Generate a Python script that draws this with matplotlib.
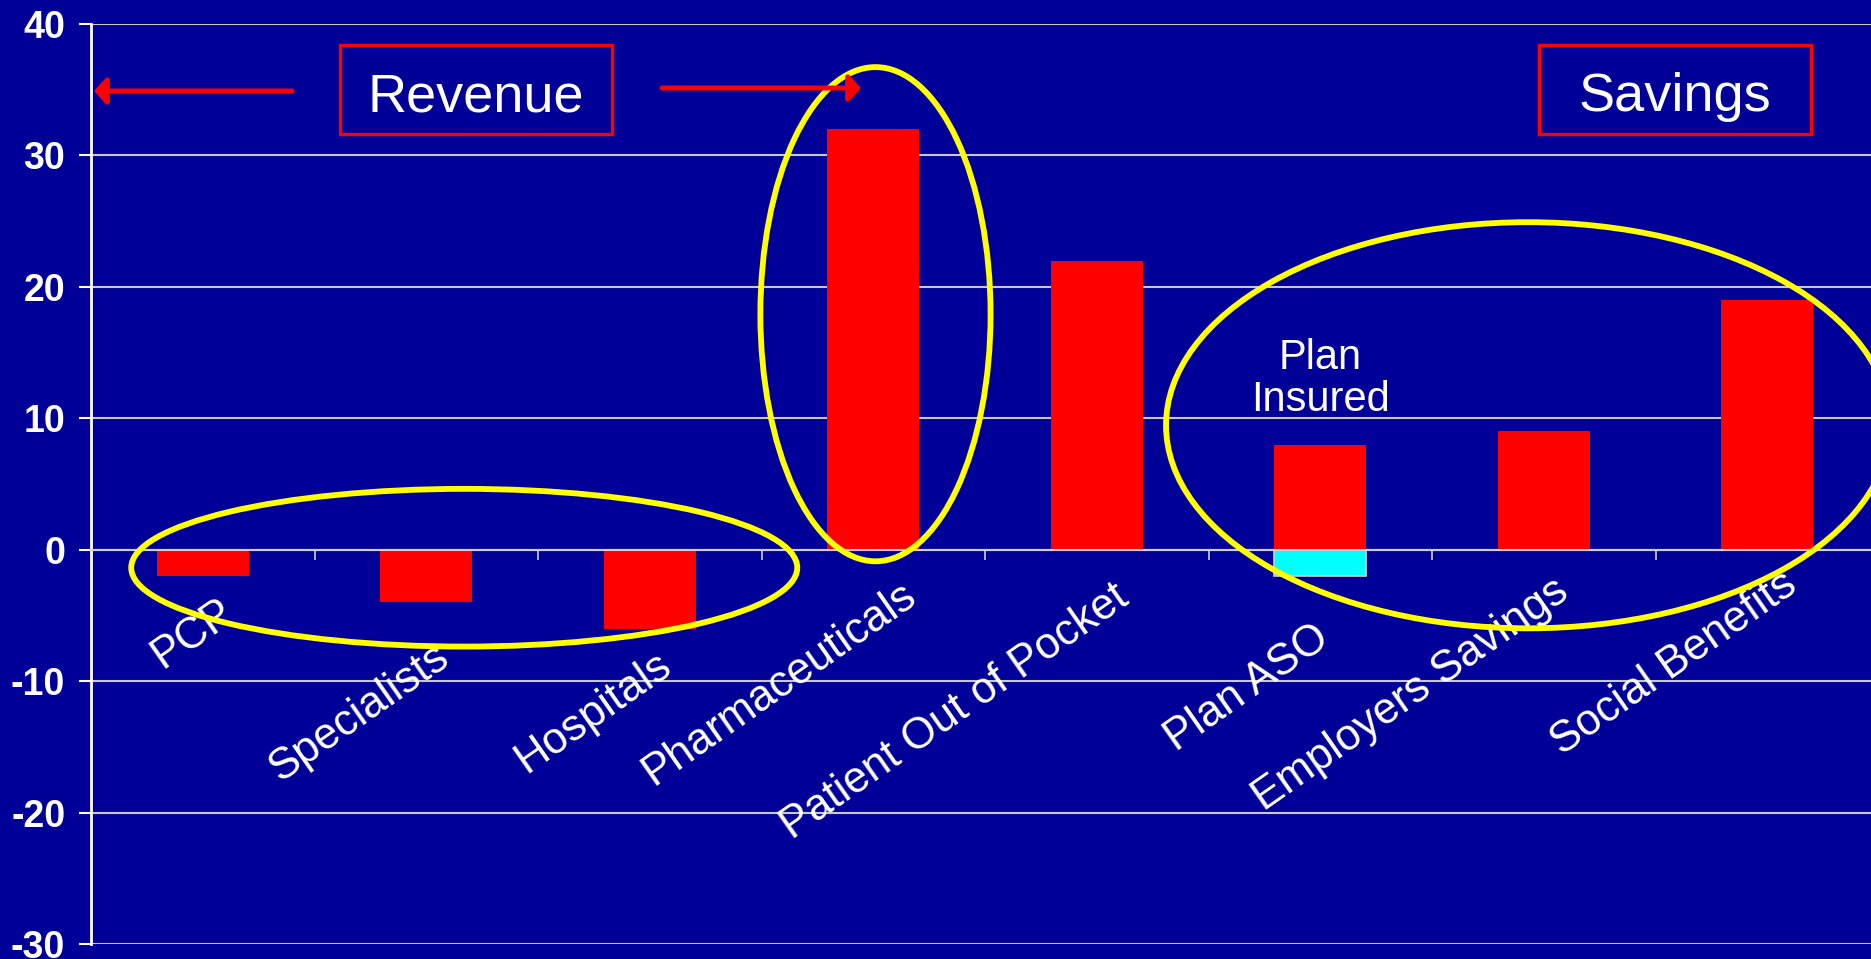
import matplotlib.pyplot as plt
from matplotlib.patches import Ellipse, Rectangle

# chart values
categories = ['PCP', 'Specialists', 'Hospitals', 'Pharmaceuticals',
              'Patient Out of Pocket', 'Plan ASO', 'Employers Savings',
              'Social Benefits']
values = [-2, -4, -6, 32, 22, 8, 9, 19]   # the Plan column holds "Plan Insured"
aso_category = 'Plan ASO'
aso_value = -2
yticks = [-30, -20, -10, 0, 10, 20, 30, 40]

# per-label nudges (pixels) to follow the original label placement
label_shift_x = [15, 7, 6, 27, 16, -7, 9, 14]
label_shift_y = [-42, -87, -94, -24, -27, -67, -21, -14]

bg = '#000099'
plt.rcParams['font.family'] = ['Liberation Sans', 'DejaVu Sans']

fig = plt.figure(figsize=(18.71, 9.59), dpi=100, facecolor=bg)
ax = fig.add_axes([91 / 1871, 15 / 959, 1788 / 1871, 920 / 959], facecolor=bg)

x = list(range(len(categories)))
ax.bar(x, values, width=0.41, color='#FF0000', zorder=3)
ax.bar(categories.index(aso_category), aso_value, width=0.41, color='#00FFFF',
       edgecolor='#D0D0D0', linewidth=1.2, zorder=3)

ax.set_xlim(-0.5, len(categories) - 0.5)
ax.set_ylim(-30, 40)
ax.set_yticks(yticks)
ax.set_yticklabels([str(v) for v in yticks], fontsize=27, fontweight='bold', color='white')
ax.tick_params(axis='y', direction='out', length=8.6, width=1.5, color='white', pad=10)
ax.yaxis.grid(True, color='#C8C8C8', linewidth=1.5, zorder=0)

ax.set_xticks([])
ax.set_xticks([i + 0.5 for i in x[:-1]], minor=True)
ax.tick_params(axis='x', which='minor', direction='out', length=7, width=1.2, color='#D0D0D0')

for side in ['top', 'right']:
    ax.spines[side].set_visible(False)
ax.spines['bottom'].set_position(('data', 0))
ax.spines['bottom'].set_color('#D0D0D0')
ax.spines['bottom'].set_linewidth(1.5)
ax.spines['bottom'].set_zorder(4)
ax.spines['left'].set_color('white')
ax.spines['left'].set_linewidth(2)

for i, cat in enumerate(categories):
    ax.annotate(cat, xy=(i, 0), xytext=(label_shift_x[i] * 0.72, label_shift_y[i] * 0.72),
                textcoords='offset points', rotation=35, rotation_mode='anchor',
                ha='right', va='top', fontsize=31.5, color='white', zorder=5)

ax.text(categories.index(aso_category), 13.0, 'Plan\nInsured', ha='center', va='center',
        fontsize=30, color='white', linespacing=1.05, zorder=5)

# highlight ellipses
for cx, cy, w, h in [(1.17, -1.37, 2.98, 12.0), (3.01, 17.92, 1.03, 37.6),
                     (5.93, 9.47, 3.24, 30.9)]:
    ax.add_patch(Ellipse((cx, cy), w, h, fill=False, edgecolor='#FFFF00',
                         linewidth=4.2, zorder=6, clip_on=False))

# boxed headings
for (x0, x1), word in [((340, 612), 'Revenue'), ((1539, 1811), 'Savings')]:
    fig.patches.append(Rectangle((x0 / 1871, (959 - 134) / 959), (x1 - x0) / 1871, 89 / 959,
                                 transform=fig.transFigure, fill=False,
                                 edgecolor='#FF0000', linewidth=2.4))
    fig.text((x0 + x1) / 2 / 1871, (959 - 111) / 959, word, ha='center', va='baseline',
             fontsize=39, color='white')

# arrows
arrow = dict(arrowstyle='-|>,head_length=0.36,head_width=0.4', mutation_scale=20,
             color='#FF0000', lw=3.6, shrinkA=0, shrinkB=0)
ax.annotate('', xy=(94, 959 - 91), xytext=(292, 959 - 91), xycoords='figure pixels',
            textcoords='figure pixels', arrowprops=arrow, zorder=7)
ax.annotate('', xy=(861, 959 - 88), xytext=(662, 959 - 88), xycoords='figure pixels',
            textcoords='figure pixels', arrowprops=arrow, zorder=7)

fig.savefig('out.png', dpi=100, facecolor=bg)
